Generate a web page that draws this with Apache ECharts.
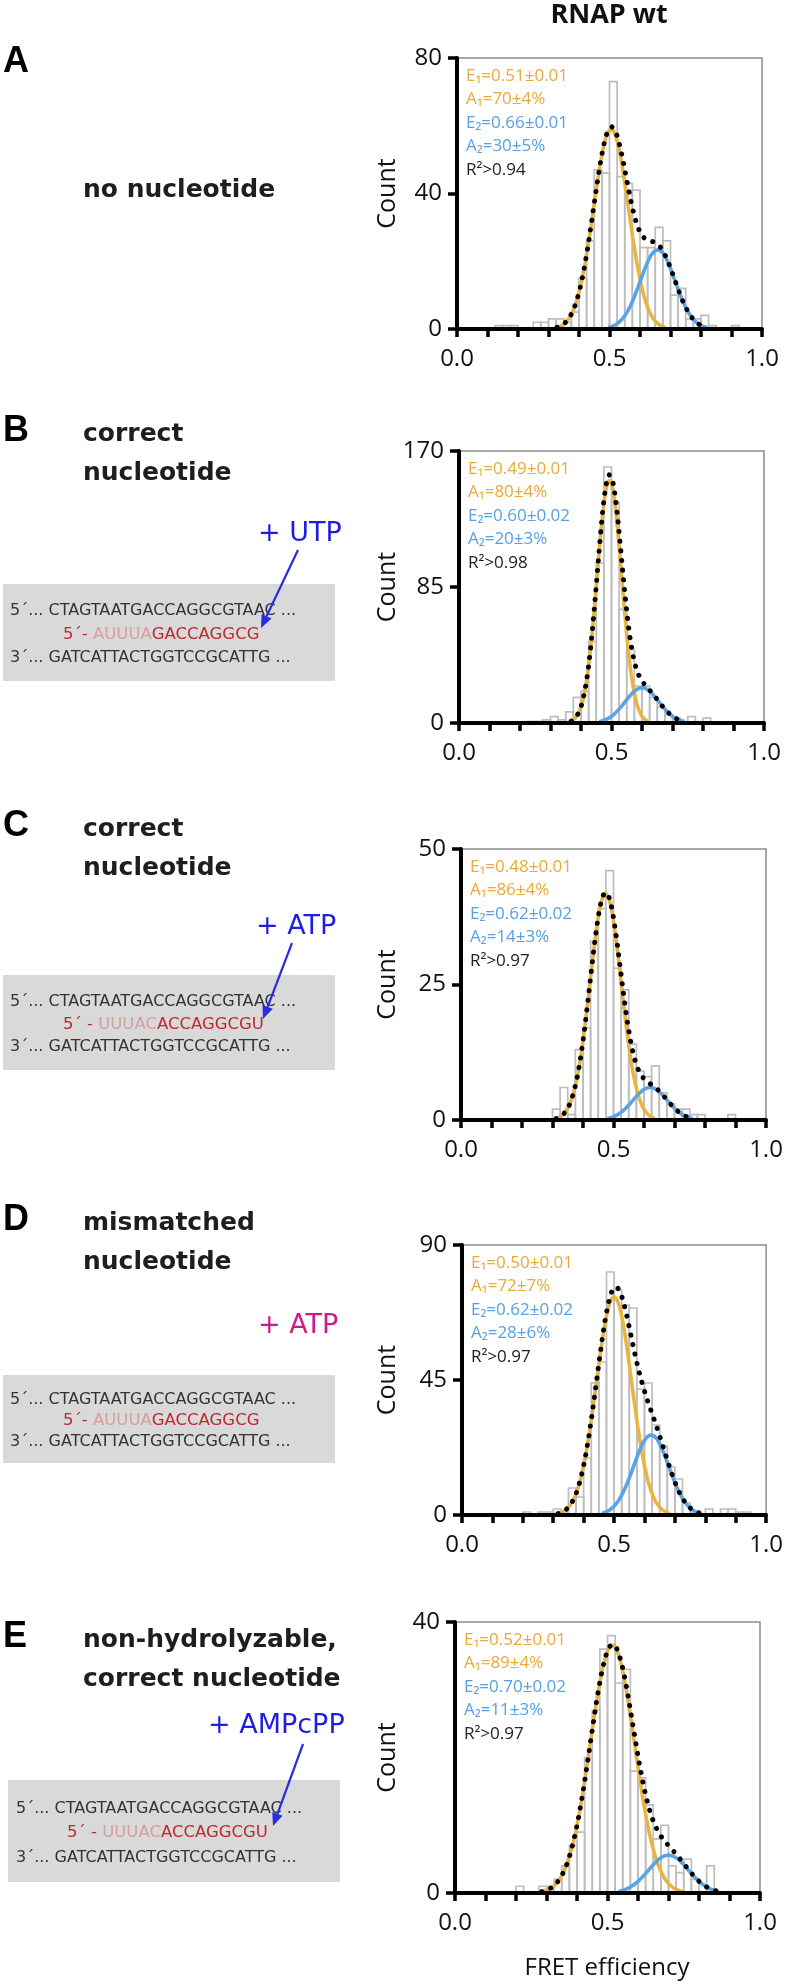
<!DOCTYPE html>
<html>
<head>
<meta charset="utf-8">
<script src="https://cdn.jsdelivr.net/npm/echarts@6.0.0/dist/echarts.min.js"></script>
<style>
html,body{margin:0;padding:0;background:#ffffff;}
#chart{width:786px;height:1984px;}
</style>
</head>
<body>
<div id="chart"></div>
<script>
// ================= DATA =================
const binWidth = 0.025;
const binStarts = [0.000,0.025,0.050,0.075,0.100,0.125,0.150,0.175,0.200,0.225,
                   0.250,0.275,0.300,0.325,0.350,0.375,0.400,0.425,0.450,0.475,
                   0.500,0.525,0.550,0.575,0.600,0.625,0.650,0.675,0.700,0.725,
                   0.750,0.775,0.800,0.825,0.850,0.875,0.900,0.925,0.950,0.975];
const countsA = [0,0,0,0,0,1,1,1,0,0, 2,2,3,3,2,5,15,26,47,46, 73,45,43,41,24,24,30,26,10,12, 3,3,4,1,0,0,1,0,0,0];
const countsB = [0,0,0,0,0,0,0,0,0,1, 1,2,4,2,7,16,20,51,100,160, 138,71,46,23,23,16,10,5,3,0, 4,0,3,0,0,0,0,0,0,0];
const countsC = [0,0,0,0,0,0,0,0,0,0, 0,0,2,6,1,13,17,33,39,46, 28,24,14,9,8,10,5,3,2,2, 1,1,0,0,0,1,0,0,0,0];
const countsD = [0,0,0,0,0,0,0,0,1,0, 1,1,2,1,9,6,19,44,51,81, 75,70,69,42,44,30,23,16,12,4, 1,0,2,0,2,2,1,1,0,0];
const countsE = [0,0,0,0,0,0,0,0,1,0, 0,1,1,2,4,7,9,20,27,36, 38,31,33,18,17,13,8,10,4,3, 5,2,0,4,0,0,0,0,0,0];

// Gaussian fit parameters (centre, peak height, width)
const fitCenter1 = [0.505, 0.493, 0.474, 0.500, 0.516];
const fitPeak1   = [59, 152, 41.8, 72.8, 36.6];
const fitSigma1  = [0.057, 0.040, 0.051, 0.058, 0.072];
const fitCenter2 = [0.658, 0.600, 0.620, 0.622, 0.700];
const fitPeak2   = [23.4, 22, 6, 26.7, 5.6];
const fitSigma2  = [0.057, 0.055, 0.056, 0.058, 0.065];

const yMax  = [80, 170, 50, 90, 40];
const yStep = [40, 85, 25, 45, 40];
const xTickLabels = ['0.0', '0.5', '1.0'];

const fitTextE1 = ['0.51±0.01','0.49±0.01','0.48±0.01','0.50±0.01','0.52±0.01'];
const fitTextA1 = ['70±4%','80±4%','86±4%','72±7%','89±4%'];
const fitTextE2 = ['0.66±0.01','0.60±0.02','0.62±0.02','0.62±0.02','0.70±0.02'];
const fitTextA2 = ['30±5%','20±3%','14±3%','28±6%','11±3%'];
const fitTextR2 = ['0.94','0.98','0.97','0.97','0.97'];

const panelLetters = ['A','B','C','D','E'];
const descLines = [['no nucleotide'], ['correct','nucleotide'], ['correct','nucleotide'],
                   ['mismatched','nucleotide'], ['non-hydrolyzable,','correct nucleotide']];
const addedNucleotide = ['', '+ UTP', '+ ATP', '+ ATP', '+ AMPcPP'];
const seqTop = '5´... CTAGTAATGACCAGGCGTAAC ...';
const seqBottom = '3´... GATCATTACTGGTCCGCATTG ...';
const seqRNA = [null,
  ['5´- ', 'AUUUA', 'GACCAGGCG'],
  ['5´ - ', 'UUUAC', 'ACCAGGCGU'],
  ['5´- ', 'AUUUA', 'GACCAGGCG'],
  ['5´ - ', 'UUUAC', 'ACCAGGCGU']];
const titleText = 'RNAP wt';
const xAxisTitle = 'FRET efficiency';
const yAxisTitle = 'Count';

const allCounts = [countsA, countsB, countsC, countsD, countsE];

// ================= LAYOUT / STYLE =================
const plotW = 305;
const grids = [
  {left:457, top:58,   height:271},
  {left:459, top:451,  height:272},
  {left:461, top:849,  height:271},
  {left:462, top:1245, height:270},
  {left:455, top:1622, height:271}
];
const leftLayout = [
  {descY:190},
  {descY:434,  plusX:258, plusY:534,  box:[3,584,335,681],   arrow:[298,550,261,628]},
  {descY:829,  plusX:256, plusY:927,  box:[3,975,335,1070],  arrow:[292,943,263,1019]},
  {descY:1223, plusX:258, plusY:1326, box:[3,1375,335,1463]},
  {descY:1640, plusX:208, plusY:1726, box:[8,1780,340,1882], arrow:[303,1744,273,1826]}
];
const seqX = [0, 10, 10, 10, 16];
const rnaX = [0, 63, 63, 63, 67];
const plusColor = ['', '#1f1fe0', '#1f1fe0', '#cc1a8c', '#1f1fe0'];
const ORANGE = '#EAB443', BLUE = '#5AA4E6';
const ORANGE_T = '#E9AA38', BLUE_T = '#58A0E2';
const FONT = '"Open Sans", "DejaVu Sans", sans-serif';
const SEQFONT = '"DejaVu Sans", sans-serif';

function gauss(x, c, a, s) { return a * Math.exp(-(x - c) * (x - c) / (2 * s * s)); }

const xAxes = [], yAxes = [], gridOpts = [], series = [], graphics = [];

grids.forEach((g, i) => {
  gridOpts.push({left:g.left, top:g.top, width:plotW, height:g.height,
    show:true, borderColor:'#8c8c8c', borderWidth:1.5, containLabel:false});
  xAxes.push({
    gridIndex:i, type:'value', min:0, max:1, interval:0.1, z:5,
    axisLine:{show:true, onZero:false, lineStyle:{color:'#000', width:4}},
    axisTick:{show:true, length:8, lineStyle:{color:'#000', width:3.5}},
    axisLabel:{show:true, fontSize:24, fontFamily:FONT, color:'#111', margin:18,
      formatter: v => { const k = xTickLabels.findIndex(t => Math.abs(parseFloat(t) - v) < 1e-6); return k >= 0 ? xTickLabels[k] : ''; }},
    splitLine:{show:false}
  });
  yAxes.push({
    gridIndex:i, type:'value', min:0, max:yMax[i], interval:yStep[i], z:5,
    axisLine:{show:true, onZero:false, lineStyle:{color:'#000', width:4}},
    axisTick:{show:true, length:9, lineStyle:{color:'#000', width:3.5}},
    axisLabel:{show:true, fontSize:24, fontFamily:FONT, color:'#111', margin:15},
    splitLine:{show:false}
  });

  // histogram bars
  const bars = binStarts.map((b, k) => [b, allCounts[i][k]]).filter(d => d[1] > 0);
  series.push({
    type:'custom', xAxisIndex:i, yAxisIndex:i, z:1, silent:true, data:bars,
    renderItem:(params, api) => {
      const x0 = api.value(0), c = api.value(1);
      const p0 = api.coord([x0, c]);
      const p1 = api.coord([x0 + binWidth, 0]);
      return {type:'rect', shape:{x:p0[0], y:p0[1], width:p1[0]-p0[0], height:p1[1]-p0[1]},
        style:{fill:'rgba(255,255,255,0)', stroke:'#bdbdbd', lineWidth:1.7}};
    }
  });

  // fit curves
  const thr = 0.005 * yMax[i];
  const c1 = [], c2 = [], cs = [];
  for (let n = 0; n <= 250; n++) {
    const x = n / 250;
    const v1 = gauss(x, fitCenter1[i], fitPeak1[i], fitSigma1[i]);
    const v2 = gauss(x, fitCenter2[i], fitPeak2[i], fitSigma2[i]);
    if (v1 >= thr) c1.push([x, v1]);
    if (v2 >= thr) c2.push([x, v2]);
    if (v1 + v2 >= thr) cs.push([x, v1 + v2]);
  }
  const lineBase = {type:'line', xAxisIndex:i, yAxisIndex:i, symbol:'none', showSymbol:false, silent:true, smooth:false};
  series.push(Object.assign({}, lineBase, {z:3, data:c1, lineStyle:{color:ORANGE, width:3.6}}));
  series.push(Object.assign({}, lineBase, {z:3, data:c2, lineStyle:{color:BLUE, width:3.6}}));
  series.push(Object.assign({}, lineBase, {z:4, data:cs, lineStyle:{color:'#000', width:5, type:[0.1, 9.6], cap:'round'}}));

  // fit annotations
  const fx = g.left + 9, offs = [18, 41, 65, 88, 112];
  const ann = [
    ['E₁=' + fitTextE1[i], ORANGE_T], ['A₁=' + fitTextA1[i], ORANGE_T],
    ['E₂=' + fitTextE2[i], BLUE_T], ['A₂=' + fitTextA2[i], BLUE_T],
    ['R²>' + fitTextR2[i], '#222']
  ];
  ann.forEach((a, j) => graphics.push({type:'text', x:fx, y:g.top + offs[j], z:20, silent:true,
    style:{text:a[0], fill:a[1], fontSize:17, fontFamily:FONT, align:'left', verticalAlign:'middle'}}));

  // y axis title
  graphics.push({type:'text', x:388, y:g.top + g.height/2, rotation:Math.PI/2, z:20, silent:true,
    style:{text:yAxisTitle, fill:'#111', fontSize:25, fontFamily:FONT, align:'center', verticalAlign:'middle'}});

  // ---- left side annotations ----
  const L = leftLayout[i];
  graphics.push({type:'text', x:3, y: i === 0 ? 62 : L.descY - 3, z:20, silent:true,
    style:{text:panelLetters[i], fill:'#000', fontSize:36, fontWeight:'bold', fontFamily:'"Liberation Sans", Arial, sans-serif', align:'left', verticalAlign:'middle'}});
  descLines[i].forEach((t, j) => graphics.push({type:'text', x:83, y:L.descY + j*39, z:20, silent:true,
    style:{text:t, fill:'#1e1e1e', fontSize:25, fontWeight:'bold', fontFamily:SEQFONT, align:'left', verticalAlign:'middle'}}));
  if (L.box) {
    const [bx0, by0, bx1, by1] = L.box, bh = by1 - by0;
    graphics.push({type:'rect', z:10, silent:true, shape:{x:bx0, y:by0, width:bx1-bx0, height:bh}, style:{fill:'#d9d9d9'}});
    const ly = [by0 + 0.28*bh, by0 + 0.52*bh, by0 + 0.76*bh];
    graphics.push({type:'text', x:seqX[i], y:ly[0], z:20, silent:true,
      style:{text:seqTop, fill:'#333', fontSize:16, fontFamily:SEQFONT, align:'left', verticalAlign:'middle'}});
    const r = seqRNA[i];
    graphics.push({type:'text', x:rnaX[i], y:ly[1], z:20, silent:true,
      style:{text:'{r|' + r[0] + '}{p|' + r[1] + '}{r|' + r[2] + '}', fontSize:16.5, fontFamily:SEQFONT,
        align:'left', verticalAlign:'middle',
        rich:{r:{fill:'#c0282d', fontSize:16.5, fontFamily:SEQFONT}, p:{fill:'#d49e9e', fontSize:16.5, fontFamily:SEQFONT}}}});
    graphics.push({type:'text', x:seqX[i], y:ly[2], z:20, silent:true,
      style:{text:seqBottom, fill:'#333', fontSize:16, fontFamily:SEQFONT, align:'left', verticalAlign:'middle'}});
    graphics.push({type:'text', x:L.plusX, y:L.plusY, z:20, silent:true,
      style:{text:addedNucleotide[i], fill:plusColor[i], fontSize:27, fontFamily:SEQFONT, align:'left', verticalAlign:'middle'}});
    if (L.arrow) {
      const [ax0, ay0, ax1, ay1] = L.arrow;
      const dx = ax1 - ax0, dy = ay1 - ay0, len = Math.hypot(dx, dy), ux = dx/len, uy = dy/len;
      const hl = 13, hw = 5.5;
      const bxp = ax1 - ux*hl, byp = ay1 - uy*hl;
      graphics.push({type:'line', z:21, silent:true, shape:{x1:ax0, y1:ay0, x2:bxp, y2:byp}, style:{stroke:'#2b2be0', lineWidth:2.2}});
      graphics.push({type:'polygon', z:21, silent:true, shape:{points:[[ax1, ay1], [bxp - uy*hw, byp + ux*hw], [bxp + uy*hw, byp - ux*hw]]}, style:{fill:'#2b2be0'}});
    }
  }
});

graphics.push({type:'text', x:609, y:15, z:20, silent:true,
  style:{text:titleText, fill:'#111', fontSize:27, fontWeight:'bold', fontFamily:FONT, align:'center', verticalAlign:'middle'}});
graphics.push({type:'text', x:607, y:1968, z:20, silent:true,
  style:{text:xAxisTitle, fill:'#111', fontSize:24, fontFamily:FONT, align:'center', verticalAlign:'middle'}});

const chart = echarts.init(document.getElementById('chart'), null, {renderer:'canvas', width:786, height:1984});
chart.setOption({
  animation:false,
  backgroundColor:'#ffffff',
  grid:gridOpts, xAxis:xAxes, yAxis:yAxes, series:series, graphic:graphics
});
</script>
</body>
</html>
